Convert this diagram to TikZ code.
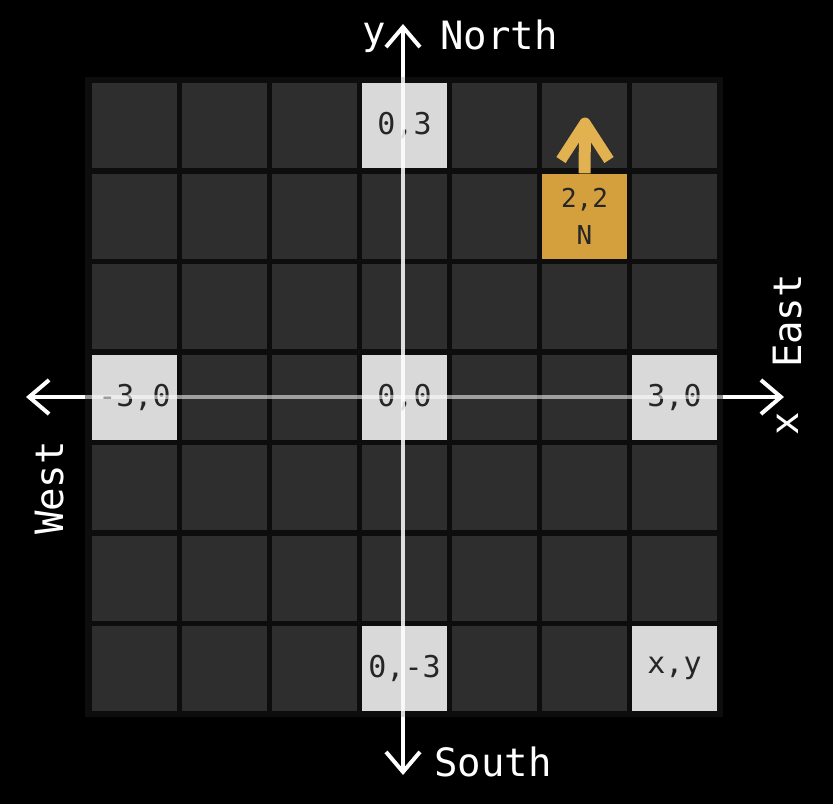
\documentclass[tikz,border=0pt]{standalone}
\usepackage{fontspec}
\setmainfont{DejaVu Sans Mono}
\newfontfamily\mono{DejaVu Sans Mono}
\usetikzlibrary{arrows.meta}
\definecolor{cellgray}{HTML}{2E2E2E}
\definecolor{framegray}{HTML}{0D0D0D}
\definecolor{lightcell}{HTML}{D9D9D9}
\definecolor{goldcell}{HTML}{D4A03E}
\definecolor{goldarrow}{HTML}{E2B250}
\tikzset{
  cell/.style={draw=none, fill=cellgray, minimum width=85pt, minimum height=85pt, inner sep=0pt},
  lcell/.style={cell, fill=lightcell, text=black!85, font=\mono\fontsize{30}{30}\selectfont},
  gcell/.style={cell, fill=goldcell, text=black!85, font=\mono\fontsize{26}{37}\selectfont, align=center},
  axis/.style={white, line width=4pt},
  axtip/.style={-{Straight Barb[length=20pt,width=34pt]}},
  lbl/.style={white, font=\mono\fontsize{39}{39}\selectfont, inner sep=0pt}
}
\begin{document}
\begin{tikzpicture}[x=1pt,y=-1pt]
\fill[black] (0,0) rectangle (833,804);
\useasboundingbox (0,0) rectangle (833,804);
\fill[framegray] (85,77) rectangle (723,717);
\foreach \i in {0,...,6}{
  \foreach \j in {0,...,6}{
    \node[cell] (c-\i-\j) at ({134.5+90*\i},{125.5+90.5*\j}) {};
  }
}
\node[lcell] (n03) at (c-3-0) {0,3};
\node[lcell] (n00) at (c-3-3) {0,0};
\node[lcell] (nm30) at (c-0-3) {-3,0};
\node[lcell] (n30) at (c-6-3) {3,0};
\node[lcell] (n0m3) at (c-3-6) {0,-3};
\node[lcell] (nxy) at (c-6-6) {x,y};
\node[gcell] (n22) at (c-5-1) {2,2\\N};
% axes
\coordinate (ytop) at (403,24);
\coordinate (ybot) at (403,775);
\coordinate (xleft) at (26,397);
\coordinate (xright) at (784,397);
\coordinate (gtop) at (403,77);
\coordinate (gbot) at (403,717);
\coordinate (gleft) at (85,397);
\coordinate (gright) at (723,397);
\draw[white, opacity=0.85, line width=4pt] (gtop) -- (gbot);
\draw[white, opacity=0.55, line width=4pt] (gleft) -- (gright);
\draw[axis, axtip] (gtop) -- (ytop);
\draw[axis, axtip] (gbot) -- (ybot);
\draw[axis, axtip] (gleft) -- (xleft);
\draw[axis, axtip] (gright) -- (xright);
% gold heading arrow
\coordinate (gapex) at (585,123);
\draw[goldarrow, line width=12pt] (n22.north) -- (585,130);
\draw[goldarrow, line width=11pt, line join=round, line cap=butt] (561,160) -- (gapex) -- (609,160);
% labels
\node[lbl] (north) at (499,35) {North};
\node[lbl] (ylab) at (374,38) {y};
\node[lbl] (south) at (493,762) {South};
\node[lbl, rotate=90] (west) at (50,488) {West};
\node[lbl, rotate=90] (east) at (788,321) {East};
\node[lbl, rotate=90] (xlab) at (788,424) {x};
\end{tikzpicture}
\end{document}
